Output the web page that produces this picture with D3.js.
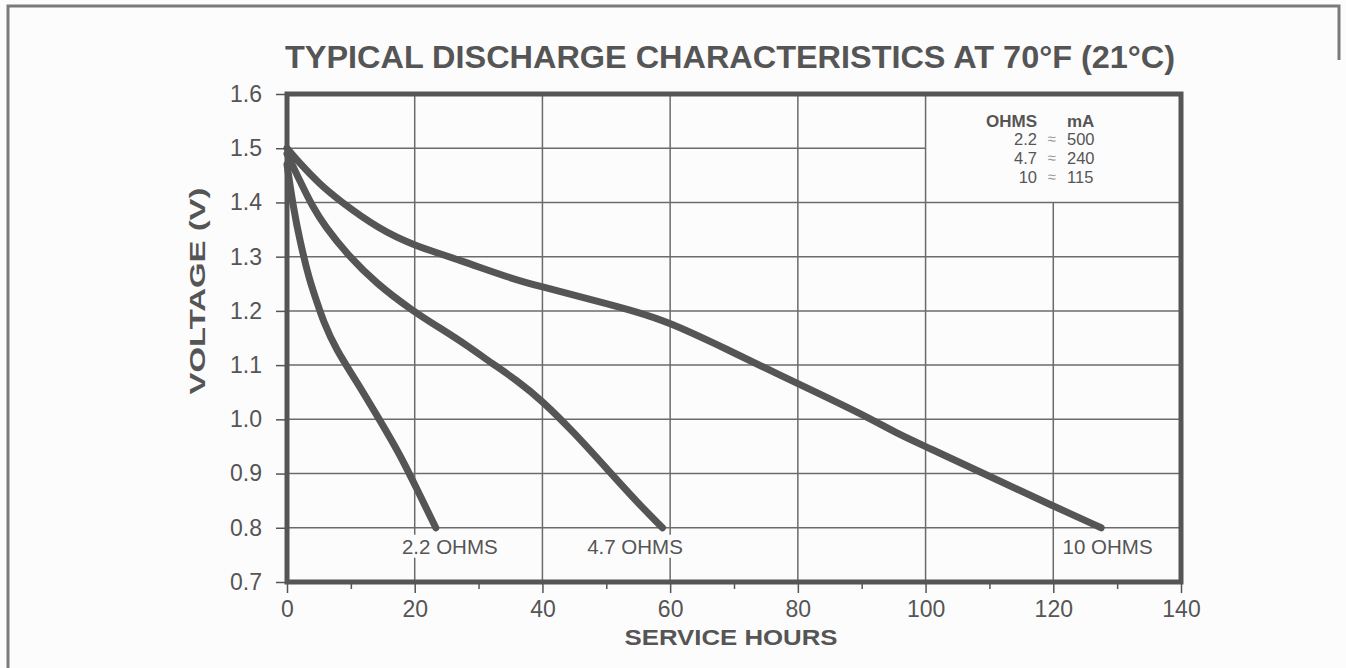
<!DOCTYPE html>
<html>
<head>
<meta charset="utf-8">
<script src="https://cdn.jsdelivr.net/npm/d3@7"></script>
<style>
  html, body { margin: 0; padding: 0; background: #fdfcfd; }
  svg { display: block; }
  text { font-family: "Liberation Sans", Arial, Helvetica, sans-serif; fill: #555; }
</style>
</head>
<body>
<svg id="chart" width="1346" height="668"></svg>
<script>
// ---- data ----
const xTicks = [0, 20, 40, 60, 80, 100, 120, 140];
const xMinorTicks = [10, 30, 50, 70, 90, 110, 130];
const yTicks = [0.7, 0.8, 0.9, 1.0, 1.1, 1.2, 1.3, 1.4, 1.5, 1.6];

const seriesNames = ["2.2 OHMS", "4.7 OHMS", "10 OHMS"];
const hours22 = [0, 1, 2, 3.5, 4.6, 5.6, 7.7, 10.8, 14.5, 17.6, 20.2, 23.3];
const volts22 = [1.47, 1.39, 1.33, 1.257, 1.22, 1.183, 1.128, 1.072, 0.999, 0.937, 0.875, 0.8];
const hours47 = [0, 2, 4, 6, 9.3, 14, 19.7, 24, 28, 32, 36, 40, 45, 50, 55, 58.8];
const volts47 = [1.49, 1.44, 1.392, 1.355, 1.306, 1.25, 1.2, 1.168, 1.138, 1.104, 1.072, 1.034, 0.975, 0.91, 0.845, 0.8];
const hours10 = [0, 2, 5, 8, 14.5, 20, 27, 35, 40, 47, 55, 60, 67, 75, 80, 90, 96, 100, 110, 120, 127.5];
const volts10 = [1.5, 1.472, 1.435, 1.405, 1.35, 1.32, 1.294, 1.26, 1.244, 1.223, 1.198, 1.178, 1.14, 1.094, 1.066, 1.01, 0.971, 0.95, 0.895, 0.84, 0.8];

// legend table
const legendOhms = ["2.2", "4.7", "10"];
const legendMA = ["500", "240", "115"];

// ---- layout ----
const svg = d3.select("#chart");
const x = d3.scaleLinear().domain([0, 140]).range([287, 1181]);
const y = d3.scaleLinear().domain([0.7, 1.6]).range([582, 94]);
const ink = "#555";
const gridColor = "#6b6b6b";
const bg = "#fdfcfd";

// outer page frame
svg.append("path")
  .attr("d", "M8,668 L8,6 L1339,6 L1339,60")
  .attr("fill", "none").attr("stroke", "#7a7a7a").attr("stroke-width", 3);

// legend box area (gridlines hidden inside), data units
const boxX0 = 100, boxY0 = 1.4;

// gridlines
const grid = svg.append("g").attr("stroke", gridColor).attr("stroke-width", 1.5);
xTicks.filter(d => d > 0 && d < 140).forEach(d => {
  grid.append("line")
    .attr("x1", x(d)).attr("x2", x(d))
    .attr("y1", d > boxX0 ? y(boxY0) : y(1.6)).attr("y2", y(0.7));
});
yTicks.filter(d => d > 0.7 && d < 1.6).forEach(d => {
  grid.append("line")
    .attr("x1", x(0))
    .attr("x2", d > boxY0 + 1e-9 ? x(boxX0) : x(140))
    .attr("y1", y(d)).attr("y2", y(d));
});

// axes
const yAxis = svg.append("g").attr("transform", `translate(${x(0)},0)`)
  .call(d3.axisLeft(y).tickValues(yTicks).tickFormat(d3.format(".1f")).tickSize(11).tickPadding(14));
const xAxis = svg.append("g").attr("transform", `translate(0,${y(0.7)})`)
  .call(d3.axisBottom(x).tickValues(xTicks).tickFormat(d3.format("d")).tickSize(11).tickPadding(8));
const xMinor = svg.append("g").attr("transform", `translate(0,${y(0.7)})`)
  .call(d3.axisBottom(x).tickValues(xMinorTicks).tickFormat("").tickSize(7));
[yAxis, xAxis, xMinor].forEach(g => {
  g.select(".domain").remove();
  g.selectAll(".tick line").attr("stroke", ink).attr("stroke-width", 1.5);
  g.selectAll(".tick text").attr("font-size", 23).attr("fill", ink)
    .style("font-family", "'Liberation Sans', Arial, sans-serif");
});

// curve labels (with background)
const labelPos = [[25.5, 0.765], [54.5, 0.765], [128.5, 0.765]];
const labelLayer = svg.append("g");
seriesNames.forEach((name, i) => {
  const t = labelLayer.append("text")
    .attr("x", x(labelPos[i][0])).attr("y", y(labelPos[i][1]) + 7)
    .attr("text-anchor", "middle").attr("font-size", 20.5).text(name);
  if (i < 2) {
    const bb = t.node().getBBox();
    labelLayer.insert("rect", () => t.node())
      .attr("x", bb.x - 2).attr("y", bb.y).attr("width", bb.width + 4).attr("height", bb.height)
      .attr("fill", bg);
  }
});

// curves
const line = d3.line().x(d => x(d[0])).y(d => y(d[1])).curve(d3.curveBasis);
[[hours22, volts22], [hours47, volts47], [hours10, volts10]].forEach(([hs, vs]) => {
  svg.append("path")
    .datum(hs.map((h, i) => [h, vs[i]]))
    .attr("d", line)
    .attr("fill", "none").attr("stroke", ink).attr("stroke-width", 7)
    .attr("stroke-linecap", "round").attr("stroke-linejoin", "round");
});

// plot frame
svg.append("rect")
  .attr("x", x(0)).attr("y", y(1.6))
  .attr("width", x(140) - x(0)).attr("height", y(0.7) - y(1.6))
  .attr("fill", "none").attr("stroke", ink).attr("stroke-width", 5);

// legend table
const lg = svg.append("g");
lg.append("text").attr("x", 1037).attr("y", 127).attr("text-anchor", "end")
  .attr("font-size", 17).attr("font-weight", "bold").text("OHMS");
lg.append("text").attr("x", 1067).attr("y", 127)
  .attr("font-size", 17).attr("font-weight", "bold").text("mA");
legendOhms.forEach((o, i) => {
  const by = 145 + i * 19;
  lg.append("text").attr("x", 1037).attr("y", by).attr("text-anchor", "end").attr("font-size", 16.5).text(o);
  lg.append("text").attr("x", 1051.5).attr("y", by - 1).attr("text-anchor", "middle").attr("font-size", 15)
    .style("fill", "#9a9a9a").text("≈");
  lg.append("text").attr("x", 1067).attr("y", by).attr("font-size", 16.5).text(legendMA[i]);
});

// title
svg.append("text")
  .attr("x", 285).attr("y", 68)
  .attr("font-size", 32).attr("font-weight", "bold")
  .attr("textLength", 890).attr("lengthAdjust", "spacingAndGlyphs")
  .text("TYPICAL DISCHARGE CHARACTERISTICS AT 70°F (21°C)");

// axis titles
svg.append("text")
  .attr("x", 731).attr("y", 645).attr("text-anchor", "middle")
  .attr("font-size", 22).attr("font-weight", "bold")
  .attr("textLength", 213).attr("lengthAdjust", "spacingAndGlyphs")
  .text("SERVICE HOURS");
svg.append("text")
  .attr("transform", "translate(205,291) rotate(-90)")
  .attr("text-anchor", "middle")
  .attr("font-size", 22).attr("font-weight", "bold")
  .attr("textLength", 207).attr("lengthAdjust", "spacingAndGlyphs")
  .text("VOLTAGE (V)");
</script>
</body>
</html>
